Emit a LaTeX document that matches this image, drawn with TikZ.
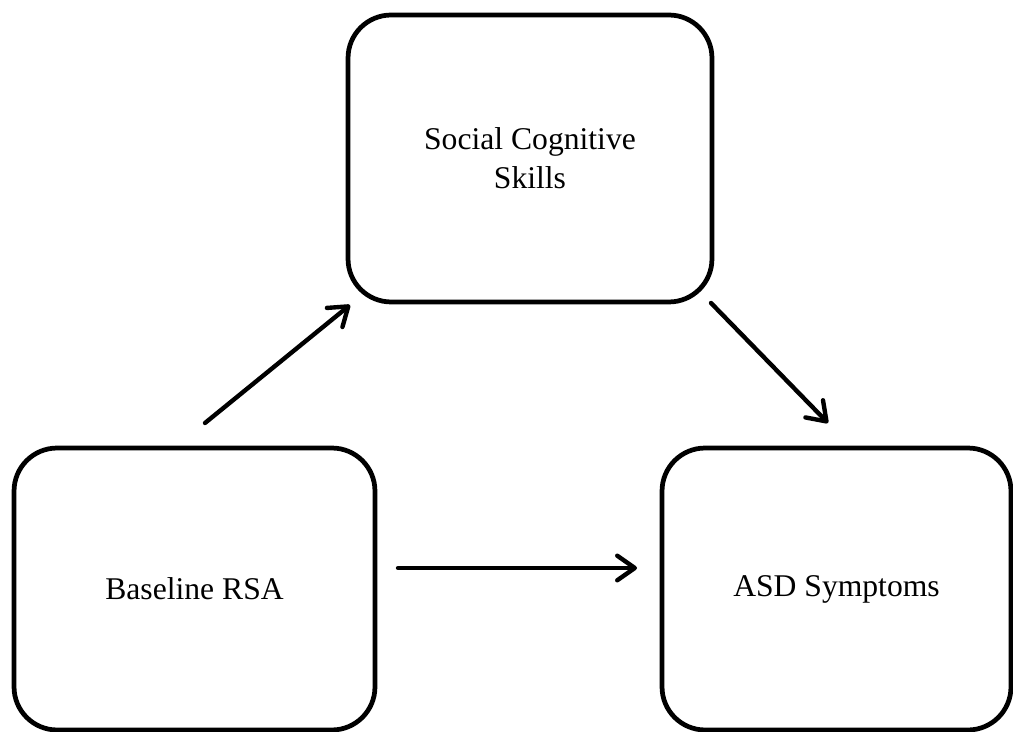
\documentclass[tikz,border=0pt]{standalone}
\usepackage{fontspec}
\setmainfont{Liberation Serif}
\usetikzlibrary{arrows.meta}
\tikzset{
    box/.style={draw, line width=2.7pt, rounded corners=0.86cm, align=center, font=\fontsize{18}{22}\selectfont},
    link/.style={line width=2.5pt, line cap=round, -{Straight Barb[length=10pt, width=14pt, line width=2.5pt, round]}},
}

\begin{document}
\begin{tikzpicture}[x=0.02cm, y=-0.02cm]
\useasboundingbox (0,0) rectangle (1013,732);

\node[box, minimum width=7.28cm, minimum height=5.74cm] (social) at (530,158.5) {Social Cognitive\\Skills};
\node[box, minimum width=7.22cm, minimum height=5.64cm] (base) at (194.5,589) {Baseline RSA};
\node[box, minimum width=6.98cm, minimum height=5.64cm] (asd) at (836.5,589) {ASD Symptoms};

\coordinate (a1) at (205,423);
\coordinate (b1) at (350,305);
\coordinate (a2) at (711,303);
\coordinate (b2) at (828,423);
\coordinate (a3) at (398,568);
\coordinate (b3) at (637,568);

\draw[link] (a1) -- (b1);
\draw[link] (a2) -- (b2);
\draw[link] (a3) -- (b3);
\end{tikzpicture}
\end{document}
